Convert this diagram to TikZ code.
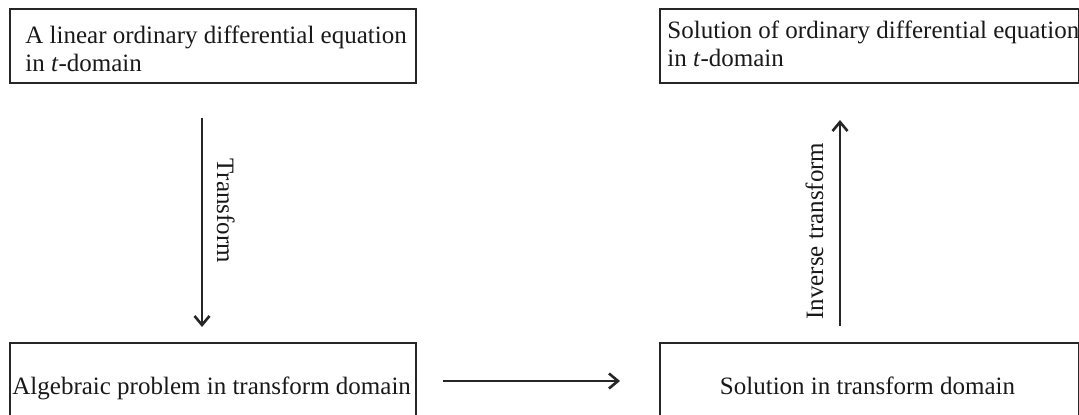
\documentclass[tikz,border=0pt]{standalone}
\usepackage{fontspec}
\setmainfont{Liberation Serif}
\usetikzlibrary{arrows.meta}
\begin{document}
\begin{tikzpicture}[x=0.5pt,y=-0.5pt,
  box/.style={draw=black!85, line width=1pt, anchor=north west, inner sep=0pt, minimum height=37pt},
  txt/.style={inner sep=0pt, font=\fontsize{12.5}{14}\selectfont, text=black!90},
  flow/.style={draw=black!85, line width=1.1pt, -{Straight Barb[length=4.5pt,width=7.5pt,line width=1.3pt]}},
  steplabel/.style={txt, anchor=base west}]
\useasboundingbox (0,0) rectangle (1079,415);
\clip (0,0) rectangle (1079,415);

% the four boxes (the lower two run past the bottom edge)
\node[box, minimum width=203pt] (ode) at (9,8) {};
\node[box, minimum width=209.5pt] (sol) at (659,8) {};
\node[box, minimum width=203pt, minimum height=50pt] (alg) at (9,342) {};
\node[box, minimum width=209.5pt, minimum height=50pt] (tsol) at (659,342) {};

% box texts
\node[txt, anchor=north west, align=left] (odetext) at (25,26)
  {A linear ordinary differential equation\\in \textit{t}-domain};
\node[txt, anchor=north west, align=left] (soltext) at (667,21)
  {Solution of ordinary differential equation\\in \textit{t}-domain};
\node[txt, anchor=base west] (algtext) at (12,395) {Algebraic problem in transform domain};
\node[txt, anchor=base] (tsoltext) at (867.5,395) {Solution in transform domain};

% arrow end points
\coordinate (fwdA) at (202,118);
\coordinate (fwdB) at (202,327);
\coordinate (midA) at (443,381);
\coordinate (midB) at (620,381);
\coordinate (invA) at (840,326);
\coordinate (invB) at (840,120);

\draw[flow] (fwdA) -- (fwdB);
\draw[flow] (midA) -- (midB);
\draw[flow] (invA) -- (invB);

% arrow labels
\node[steplabel, rotate=-90] (fwdlabel) at (217,158) {Transform};
\node[steplabel, rotate=90] (invlabel) at (823,320) {Inverse transform};
\end{tikzpicture}
\end{document}
